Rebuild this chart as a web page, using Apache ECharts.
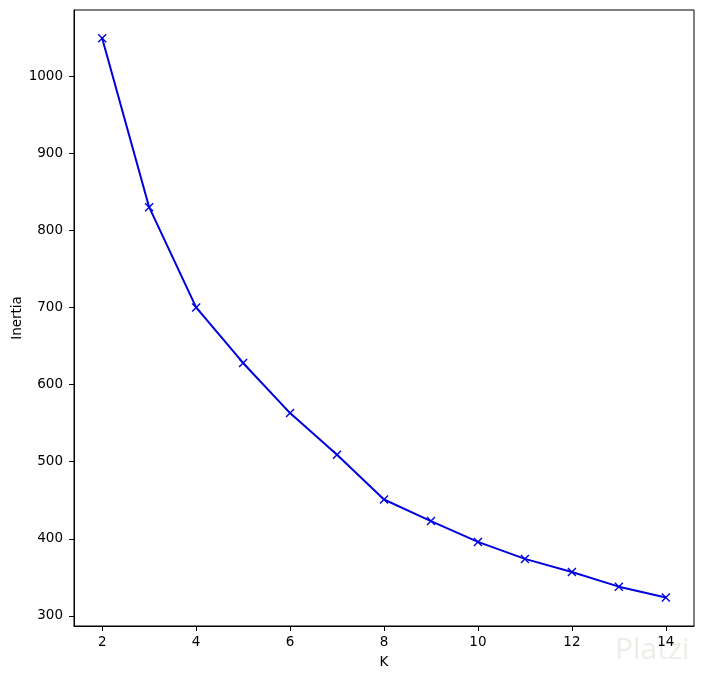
<!DOCTYPE html>
<html>
<head>
<meta charset="utf-8">
<script src="https://cdn.jsdelivr.net/npm/echarts@6/dist/echarts.min.js"></script>
<style>
  html, body { margin: 0; padding: 0; background: #fff; }
  #chart { width: 704px; height: 679px; }
</style>
</head>
<body>
<div id="chart"></div>
<script>
// elbow curve: inertia for each K
const kValues = [2, 3, 4, 5, 6, 7, 8, 9, 10, 11, 12, 13, 14]
const inertia = [1049, 830, 700, 628, 563, 509, 451, 423, 396, 374, 357, 338, 324]
const xTicks = [2, 4, 6, 8, 10, 12, 14]
const yTicks = [300, 400, 500, 600, 700, 800, 900, 1000]

const font = 'DejaVu Sans'
const axisCommon = {
  axisLine: { show: true, lineStyle: { color: '#000', width: 1 } },
  axisTick: { show: true, inside: false, length: 5, lineStyle: { color: '#000' } },
  axisLabel: { color: '#000', fontFamily: font, fontSize: 13.5, formatter: v => String(v) },
  splitLine: { show: false },
  nameTextStyle: { color: '#000', fontFamily: font, fontSize: 13.5 }
}

const chart = echarts.init(document.getElementById('chart'))
chart.setOption({
  animation: false,
  backgroundColor: '#fff',
  grid: {
    left: 74, right: 10, top: 10, bottom: 53,
    outerBoundsMode: 'none',
    containLabel: false,
    show: true, borderColor: '#000', borderWidth: 1, backgroundColor: 'transparent'
  },
  xAxis: {
    type: 'value',
    min: 1.4,
    max: 14.6,
    name: 'K',
    nameLocation: 'middle',
    nameGap: 29,
    nameMoveOverlap: false,
    ...axisCommon,
    axisTick: { ...axisCommon.axisTick, customValues: xTicks },
    axisLabel: { ...axisCommon.axisLabel, margin: 9, customValues: xTicks }
  },
  yAxis: {
    type: 'value',
    min: 287,
    max: 1085.6,
    name: 'Inertia',
    nameLocation: 'middle',
    nameGap: 50,
    nameRotate: 90,
    nameMoveOverlap: false,
    ...axisCommon,
    axisTick: { ...axisCommon.axisTick, customValues: yTicks },
    axisLabel: { ...axisCommon.axisLabel, margin: 11, customValues: yTicks }
  },
  series: [
    {
      type: 'line',
      data: kValues.map((k, i) => [k, inertia[i]]),
      symbol: 'path://M0,0L10,10M10,0L0,10',
      symbolSize: 8,
      showAllSymbol: true,
      lineStyle: { color: '#0000dd', width: 2 },
      itemStyle: { color: 'none', borderColor: '#0000dd', borderWidth: 1.4 }
    }
  ],
  graphic: [
    {
      type: 'text',
      left: 615,
      top: 635,
      style: { text: 'Platzi', fill: '#eceee8', font: '30px "Open Sans"' }
    }
  ]
})
</script>
</body>
</html>
